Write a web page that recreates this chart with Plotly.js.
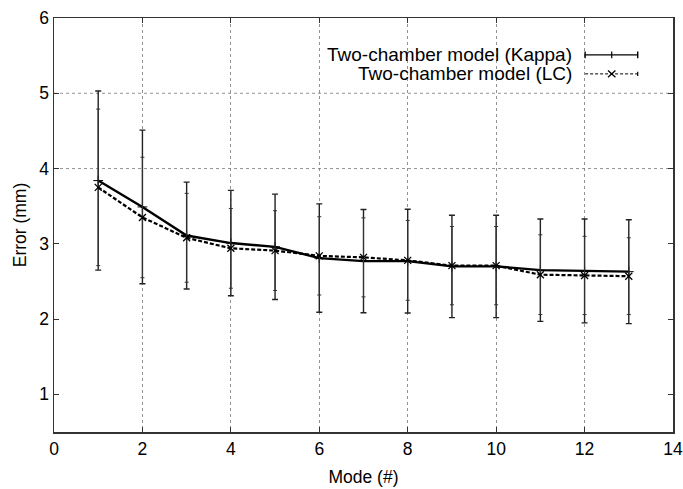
<!DOCTYPE html>
<html>
<head>
<meta charset="utf-8">
<script src="https://cdn.plot.ly/plotly-3.0.1.min.js"></script>
<style>html,body{margin:0;padding:0;background:#fff;}#chart{width:683px;height:489px;}</style>
</head>
<body>
<div id="chart"></div>
<script>
const modes = [1,2,3,4,5,6,7,8,9,10,11,12,13];
const kappaMean = [3.84,3.49,3.11,3.01,2.96,2.81,2.77,2.77,2.70,2.70,2.65,2.64,2.63];
const kappaErr  = [1.19,1.02,0.71,0.70,0.70,0.72,0.685,0.69,0.68,0.68,0.68,0.69,0.69];
const lcMean    = [3.75,3.35,3.08,2.94,2.91,2.84,2.82,2.78,2.71,2.71,2.59,2.58,2.57];
const lcErr     = [1.04,0.80,0.59,0.53,0.53,0.52,0.525,0.53,0.52,0.52,0.53,0.52,0.51];
const seriesNames = ['Two-chamber model (Kappa)','Two-chamber model (LC)'];
const xTicks = [0,2,4,6,8,10,12,14];
const yTicks = [1,2,3,4,5,6];
const yGridVals = [4,5];

const FONT = 'Liberation Sans, Arial, Helvetica, sans-serif';

const traces = [
  {
    x: modes, y: kappaMean, name: seriesNames[0], type: 'scatter', mode: 'lines+markers',
    line: {color: '#000', width: 2.4},
    marker: {symbol: 'cross-thin-open', size: 7, color: '#000', line: {color: '#000', width: 1}},
    error_y: {type: 'data', array: kappaErr, visible: true, color: '#222', thickness: 1.4, width: 3},
    showlegend: false
  },
  {
    x: modes, y: lcMean, name: seriesNames[1], type: 'scatter', mode: 'lines+markers',
    line: {color: '#000', width: 2.2, dash: '4px,2px'},
    marker: {symbol: 'x-thin-open', size: 7, color: '#000', line: {color: '#000', width: 1.3}},
    error_y: {type: 'data', array: lcErr, visible: true, color: '#333', thickness: 1, width: 2},
    showlegend: false
  }
];

// horizontal grid lines (only at 4 and 5 as in the reference)
const shapes = yGridVals.map(v => ({
  type:'line', xref:'paper', yref:'y', x0:0, x1:1, y0:v, y1:v, layer:'below',
  line:{color:'#777', width:0.8, dash:'dot'}
}));

// legend samples (paper coordinates)
const lx0 = 0.858, lx1 = 0.943, lxm = 0.901;
const ly1 = 0.911, ly2 = 0.865;
const tick = 0.008;
shapes.push(
  {type:'line', xref:'paper', yref:'paper', x0:lx0, x1:lx1, y0:ly1, y1:ly1, line:{color:'#000', width:1.4}},
  {type:'line', xref:'paper', yref:'paper', x0:lx0, x1:lx0, y0:ly1-tick, y1:ly1+tick, line:{color:'#000', width:1.4}},
  {type:'line', xref:'paper', yref:'paper', x0:lx1, x1:lx1, y0:ly1-tick, y1:ly1+tick, line:{color:'#000', width:1.4}},
  {type:'line', xref:'paper', yref:'paper', x0:lxm, x1:lxm, y0:ly1-tick, y1:ly1+tick, line:{color:'#000', width:1.2}},
  {type:'line', xref:'paper', yref:'paper', x0:lx0, x1:lx1, y0:ly2, y1:ly2, line:{color:'#000', width:1, dash:'3px,2px'}},
  {type:'line', xref:'paper', yref:'paper', x0:lx1, x1:lx1, y0:ly2-0.005, y1:ly2+0.005, line:{color:'#000', width:1.2}},
  {type:'line', xref:'paper', yref:'paper', x0:lxm-0.006, x1:lxm+0.006, y0:ly2-0.008, y1:ly2+0.008, line:{color:'#000', width:1.3}},
  {type:'line', xref:'paper', yref:'paper', x0:lxm-0.006, x1:lxm+0.006, y0:ly2+0.008, y1:ly2-0.008, line:{color:'#000', width:1.3}}
);

const annotations = [
  {xref:'paper', yref:'paper', x:0.840, y:ly1, xanchor:'right', yanchor:'middle', text:seriesNames[0], showarrow:false, font:{family:FONT, size:19, color:'#000'}},
  {xref:'paper', yref:'paper', x:0.840, y:ly2, xanchor:'right', yanchor:'middle', text:seriesNames[1], showarrow:false, font:{family:FONT, size:19, color:'#000'}}
];

const layout = {
  width: 683, height: 489,
  margin: {l: 54, r: 10, t: 18, b: 57},
  paper_bgcolor: '#fff', plot_bgcolor: '#fff',
  font: {family: FONT, size: 17, color: '#000'},
  showlegend: false,
  xaxis: {
    range: [0, 14], tickvals: xTicks, ticktext: xTicks.map(String),
    showgrid: true, gridcolor: '#777', griddash: 'dot', gridwidth: 0.8,
    zeroline: false, showline: true, linecolor: '#333', linewidth: 1.5, mirror: 'ticks',
    ticks: 'inside', ticklen: 5, tickcolor: '#333',
    tickfont: {family: FONT, size: 17.5},
    title: {text: 'Mode (#)', font: {family: FONT, size: 17.5}, standoff: 13}
  },
  yaxis: {
    range: [0.5, 6], tickvals: yTicks, ticktext: yTicks.map(String),
    showgrid: false, zeroline: false,
    showline: true, linecolor: '#333', linewidth: 1.5, mirror: 'ticks',
    ticks: 'inside', ticklen: 5, tickcolor: '#333',
    tickfont: {family: FONT, size: 17.5},
    title: {text: 'Error (mm)', font: {family: FONT, size: 17.5}, standoff: 8}
  },
  shapes: shapes,
  annotations: annotations
};

Plotly.newPlot('chart', traces, layout, {displayModeBar: false, staticPlot: true});
</script>
</body>
</html>
